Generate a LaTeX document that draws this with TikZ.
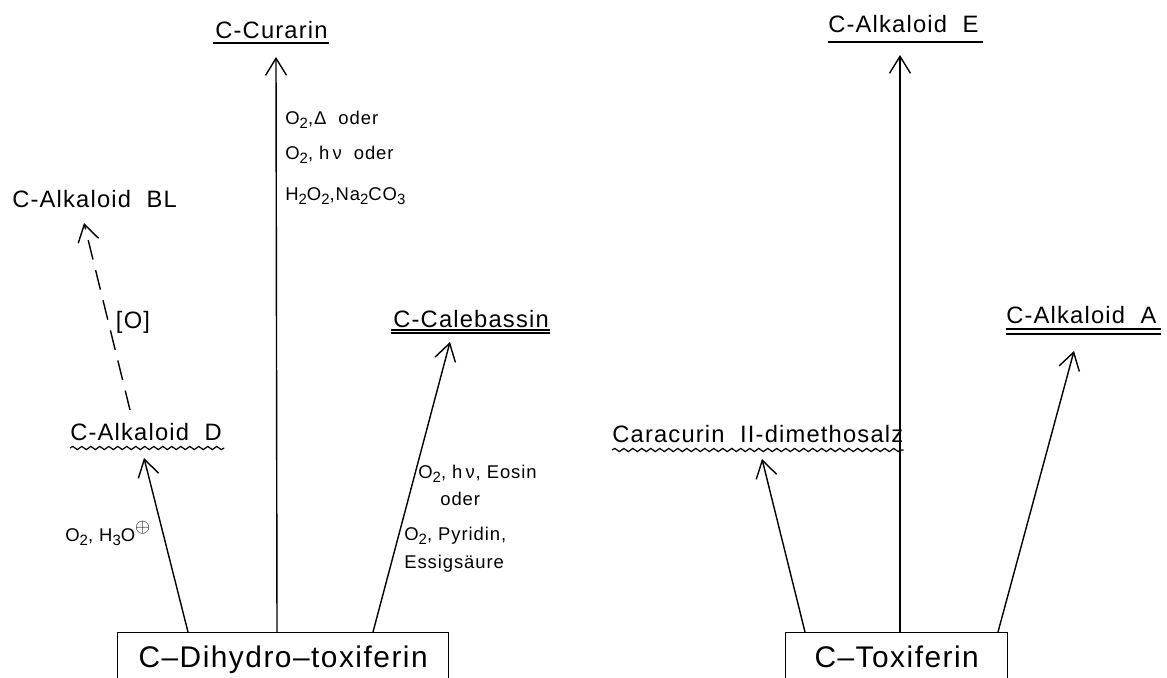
\documentclass[tikz,border=0pt]{standalone}
\usepackage{fontspec}
\setmainfont[LetterSpace=5]{Liberation Sans}
\usetikzlibrary{arrows.meta,calc,decorations.pathmorphing}
\newcommand{\sbs}[1]{\raisebox{-0.45ex}{\fontsize{8.5}{9}\selectfont #1}}

\begin{document}
\begin{tikzpicture}[x=0.02cm,y=-0.02cm]
	\tikzset{start/.style = {draw,line width=.8pt,anchor=north west,inner xsep=0pt,inner ysep=0.26cm,text height=0.44cm,text depth=0.1cm,font=\fontsize{17}{20}\selectfont}}
	\tikzset{product/.style = {inner sep=0pt,anchor=base west,font=\fontsize{13.5}{15}\selectfont}}
	\tikzset{cond/.style = {inner sep=0pt,anchor=base west,font=\fontsize{10.5}{12}\selectfont}}
	\tikzset{edge/.style = {->,line width=.8pt,>={Straight Barb[length=3.4mm,width=4.2mm]}}}
	\tikzset{uline/.style = {line width=.7pt}}
	\tikzset{wavy/.style = {line width=.7pt,decorate,decoration={snake,segment length=0.18cm,amplitude=0.9pt}}}
	\useasboundingbox (0,0) rectangle (1167,677);
	\clip (0,0) rectangle (1167,677);
	% starting materials
	\node[start,minimum width=6.62cm] (dihydro) at (117,632) {C–Dihydro–toxiferin};
	\node[start,minimum width=4.44cm] (toxiferin) at (785,632) {C–Toxiferin};
	% products
	\node[product] (curarin) at (215,38) {C-Curarin};
	\node[product] (alkBL) at (12,207) {C-Alkaloid~~BL};
	\node[product] (alkD) at (70,440) {C-Alkaloid~~D};
	\node[product] (calebassin) at (393,327) {C-Calebassin};
	\node[product] (caracurin) at (612,442) {Caracurin~~II-dimethosalz};
	\node[product] (alkE) at (828,32) {C-Alkaloid~~E};
	\node[product] (alkA) at (1006,323) {C-Alkaloid~~A};
	% underlines
	\draw[uline] ($(curarin.base west)+(-2,5)$) -- ($(curarin.base east)+(1,5)$);
	\draw[uline] ($(alkE.base west)+(0,10)$) -- ($(alkE.base east)+(4,10)$);
	\draw[uline] ($(calebassin.base west)+(-2,3)$) -- ($(calebassin.base east)+(1,3)$);
	\draw[uline] ($(calebassin.base west)+(-2,6)$) -- ($(calebassin.base east)+(1,6)$);
	\draw[uline] ($(alkA.base west)+(0,6)$) -- ($(alkA.base east)+(4,6)$);
	\draw[uline] ($(alkA.base west)+(0,11)$) -- ($(alkA.base east)+(4,11)$);
	\draw[wavy] ($(alkD.base west)+(0,8)$) -- ($(alkD.base east)+(2,8)$);
	\draw[wavy] ($(caracurin.base west)+(0,8)$) -- ($(caracurin.base east)+(0,8)$);
	% arrow ends
	\coordinate (d1) at ($(dihydro.north west)+(71,0)$);
	\coordinate (d2) at ($(dihydro.north west)+(160,0)$);
	\coordinate (d3) at ($(dihydro.north west)+(256,0)$);
	\coordinate (t1) at ($(toxiferin.north west)+(20,0)$);
	\coordinate (t2) at ($(toxiferin.north west)+(115,0)$);
	\coordinate (t3) at ($(toxiferin.north west)+(213,0)$);
	\coordinate (tD) at (144,458);
	\coordinate (tBL) at (84,223);
	\coordinate (fBL) at (130,410);
	\coordinate (tCur) at (276,57);
	\coordinate (tCal) at (450,342);
	\coordinate (tCar) at (762,459);
	\coordinate (tE) at (900,55);
	\coordinate (tA) at (1074,351);
	\draw[edge] (d1) -- (tD);
	\draw[edge] (d2) -- (tCur);
	\draw[edge] (d3) -- (tCal);
	\draw[edge,dash pattern=on 0.4cm off 0.22cm] (fBL) -- (tBL);
	\draw[edge] (t1) -- (tCar);
	\draw[edge] (t2) -- (tE);
	\draw[edge] (t3) -- (tA);
	% conditions
	\node[product,anchor=center] (ox) at (133,322) {[O]};
	\node[cond] (cD) at (65,541) {O\sbs{2}, H\sbs{3}O\raisebox{0.9ex}{\fontsize{11}{11}\selectfont$\oplus$}};
	\node[cond] (cCur1) at (285,124) {O\sbs{2},Δ~~oder};
	\node[cond] (cCur2) at (285,159) {O\sbs{2}, h\,ν~~oder};
	\node[cond] (cCur3) at (285,200) {H\sbs{2}O\sbs{2},Na\sbs{2}CO\sbs{3}};
	\node[cond] (cCal1) at (418,478) {O\sbs{2}, h\,ν, Eosin};
	\node[cond] (cCal2) at (440,505) {oder};
	\node[cond] (cCal3) at (404,540) {O\sbs{2}, Pyridin,};
	\node[cond] (cCal4) at (404,568) {Essigsäure};
\end{tikzpicture}
\end{document}
